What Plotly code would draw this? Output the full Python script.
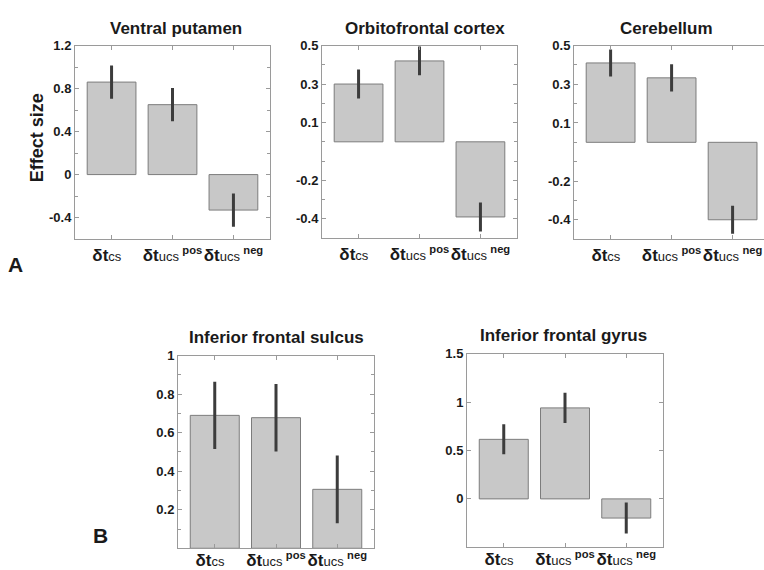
import plotly.graph_objects as go

# ---------------- data ----------------
regions = ["Ventral putamen", "Orbitofrontal cortex", "Cerebellum",
           "Inferior frontal sulcus", "Inferior frontal gyrus"]
categories = ["dt_cs", "dt_ucs_pos", "dt_ucs_neg"]
category_labels = [
    "<b>δt</b><span style='font-size:13px'>cs</span>\u00a0\u00a0",
    "<b>δt</b><span style='font-size:13px'>ucs</span>\u2009<span style='font-size:16px'><sup><b>pos</b></sup></span>",
    "<b>δt</b><span style='font-size:13px'>ucs</span>\u2009<span style='font-size:16px'><sup><b>neg</b></sup></span>",
]

vp_values = [0.86, 0.65, -0.33]
vp_errors = [0.155, 0.155, 0.155]
ofc_values = [0.30, 0.42, -0.39]
ofc_errors = [0.075, 0.075, 0.075]
cb_values = [0.41, 0.333, -0.40]
cb_errors = [0.07, 0.07, 0.072]
ifs_values = [0.69, 0.678, 0.306]
ifs_errors = [0.174, 0.175, 0.176]
ifg_values = [0.615, 0.94, -0.198]
ifg_errors = [0.155, 0.157, 0.16]

vp_ticks = [-0.4, 0, 0.4, 0.8, 1.2]
vp_ticktext = ["-0.4", "0", "0.4", "0.8", "1.2"]
ofc_ticks = [-0.4, -0.2, 0.1, 0.3, 0.5]
ofc_ticktext = ["-0.4", "-0.2", "0.1", "0.3", "0.5"]
cb_ticks = [-0.4, -0.2, 0.1, 0.3, 0.5]
cb_ticktext = ["-0.4", "-0.2", "0.1", "0.3", "0.5"]
ifs_ticks = [0.2, 0.4, 0.6, 0.8, 1.0]
ifs_ticktext = ["0.2", "0.4", "0.6", "0.8", "1"]
ifg_ticks = [0, 0.5, 1.0, 1.5]
ifg_ticktext = ["0", "0.5", "1", "1.5"]

# ---------------- layout helpers ----------------
W, H = 764, 570
FONT = "Liberation Sans"
AX = "#9a9a9a"
TXT = "#1a1a1a"


def xdom(a, b):
    return [a / W, min(b / W, 1.0)]


def ydom(top, bottom):
    return [1 - bottom / H, 1 - top / H]


panels = [
    dict(values=vp_values, errors=vp_errors, ticks=vp_ticks, ticktext=vp_ticktext,
         yrange=[-0.6, 1.2], minor=0.2, xd=(75, 270), yd=(39, 235), xr=[0.4, 3.6],
         mirror=True, title_xy=(176, 22), standoff=0),
    dict(values=ofc_values, errors=ofc_errors, ticks=ofc_ticks, ticktext=ofc_ticktext,
         yrange=[-0.5, 0.5], minor=0.1, xd=(322, 517), yd=(39, 234), xr=[0.4, 3.6],
         mirror=True, title_xy=(425, 22), standoff=0),
    dict(values=cb_values, errors=cb_errors, ticks=cb_ticks, ticktext=cb_ticktext,
         yrange=[-0.5, 0.5], minor=0.1, xd=(574, 764), yd=(39, 235), xr=[0.4, 3.515],
         mirror=False, title_xy=(666, 22), standoff=0),
    dict(values=ifs_values, errors=ifs_errors, ticks=ifs_ticks, ticktext=ifs_ticktext,
         yrange=[0, 1], minor=0.1, xd=(178, 374), yd=(353, 548), xr=[0.4, 3.6],
         mirror=True, title_xy=(276, 335), standoff=-4),
    dict(values=ifg_values, errors=ifg_errors, ticks=ifg_ticks, ticktext=ifg_ticktext,
         yrange=[-0.5, 1.5], minor=0.5, xd=(467, 663), yd=(351, 547), xr=[0.4, 3.6],
         mirror=True, title_xy=(563, 333), standoff=-4),
]

positions = list(range(1, len(categories) + 1))

fig = go.Figure()
layout = dict(
    width=W, height=H, margin=dict(l=0, r=0, t=0, b=0),
    paper_bgcolor="white", plot_bgcolor="white", showlegend=False,
    bargap=0.2,
)
annotations = []

for i, (p, name) in enumerate(zip(panels, regions)):
    n = "" if i == 0 else str(i + 1)
    fig.add_trace(go.Bar(
        x=positions, y=p["values"], width=0.8,
        marker=dict(color="#c8c8c8", line=dict(color="#7c7c7c", width=1)),
        error_y=dict(type="data", array=p["errors"], color="#3c3c3c",
                     thickness=3, width=0, visible=True),
        xaxis="x" + n, yaxis="y" + n, hoverinfo="skip",
    ))
    layout["xaxis" + n] = dict(
        domain=xdom(*p["xd"]), anchor="y" + n, range=p["xr"],
        tickmode="array", tickvals=positions, ticktext=category_labels,
        showline=True, linecolor=AX, linewidth=1, mirror="ticks",
        ticks="inside", ticklen=4, tickcolor=AX, showgrid=False, zeroline=False,
        tickfont=dict(family=FONT, size=17, color=TXT), tickangle=0,
        ticklabelstandoff=p["standoff"],
    )
    layout["yaxis" + n] = dict(
        domain=ydom(*p["yd"]), anchor="x" + n, range=p["yrange"],
        tickmode="array", tickvals=p["ticks"], ticktext=p["ticktext"],
        showline=True, linecolor=AX, linewidth=1,
        mirror="ticks" if p["mirror"] else False,
        ticks="inside", ticklen=4, tickcolor=AX, showgrid=False, zeroline=False,
        tickfont=dict(family=FONT, size=13, color=TXT, weight="bold"),
        minor=dict(ticks="inside", ticklen=3, tickcolor=AX, dtick=p["minor"],
                   tick0=p["yrange"][0], showgrid=False),
    )
    tx, ty = p["title_xy"]
    annotations.append(dict(
        text="<b>%s</b>" % name, x=tx / W, y=1 - ty / H, xref="paper", yref="paper",
        xanchor="center", yanchor="middle", showarrow=False,
        font=dict(family=FONT, size=17, color=TXT),
    ))

annotations.append(dict(
    text="<b>Effect size</b>", x=37 / W, y=1 - 133 / H, xref="paper", yref="paper",
    xanchor="center", yanchor="middle", showarrow=False, textangle=-90,
    font=dict(family=FONT, size=18, color=TXT),
))
annotations.append(dict(
    text="<b>A</b>", x=15 / W, y=1 - 261 / H, xref="paper", yref="paper",
    xanchor="center", yanchor="middle", showarrow=False,
    font=dict(family=FONT, size=21, color=TXT),
))
annotations.append(dict(
    text="<b>B</b>", x=100 / W, y=1 - 535 / H, xref="paper", yref="paper",
    xanchor="center", yanchor="middle", showarrow=False,
    font=dict(family=FONT, size=21, color=TXT),
))

layout["annotations"] = annotations
fig.update_layout(**layout)
fig.write_html(
    "out.html",
    config={"displayModeBar": False},
    post_script="document.body.style.margin='0';document.body.style.overflow='hidden';",
)
